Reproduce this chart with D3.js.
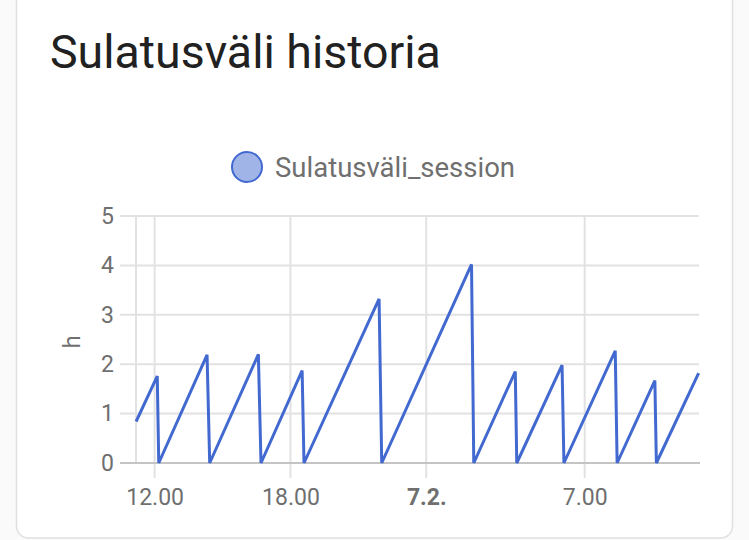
<!DOCTYPE html>
<html>
<head>
<meta charset="utf-8">
<script src="https://cdn.jsdelivr.net/npm/d3@7/dist/d3.min.js"></script>
<style>
  html, body { margin: 0; padding: 0; background: #fafafa; }
  svg { display: block; font-family: Roboto, "Noto Sans", sans-serif; }
</style>
</head>
<body>
<svg id="chart" width="749" height="540"></svg>
<script>
// ---- data ----
const title = "Sulatusväli historia";
const seriesName = "Sulatusväli_session";
const yAxisLabel = "h";
const times = [
  "2024-02-06T11:11", "2024-02-06T12:07", "2024-02-06T12:11",
  "2024-02-06T14:19", "2024-02-06T14:26",
  "2024-02-06T16:35", "2024-02-06T16:42",
  "2024-02-06T18:31", "2024-02-06T18:36",
  "2024-02-06T21:55", "2024-02-06T22:02",
  "2024-02-07T02:00", "2024-02-07T02:06",
  "2024-02-07T03:56", "2024-02-07T04:00",
  "2024-02-07T06:00", "2024-02-07T06:05",
  "2024-02-07T08:21", "2024-02-07T08:26",
  "2024-02-07T10:06", "2024-02-07T10:10",
  "2024-02-07T12:02"
];
const values = [
  0.84, 1.76, 0,
  2.19, 0,
  2.20, 0,
  1.87, 0,
  3.32, 0,
  4.02, 0,
  1.85, 0,
  1.98, 0,
  2.27, 0,
  1.67, 0,
  1.82
];
const timeDomain = ["2024-02-06T11:10:40", "2024-02-07T12:03"];
const xTickTimes = ["2024-02-06T12:00", "2024-02-06T18:00", "2024-02-07T00:00", "2024-02-07T07:00"];
const xTickLabels = ["12.00", "18.00", "7.2.", "7.00"];
const xTickBold = [false, false, true, false];
const yTicks = [0, 1, 2, 3, 4, 5];

// ---- chart ----
const parse = d3.isoParse;
const svg = d3.select("#chart");
const lineColor = "#4269d0";
const gridColor = "#e2e2e2";
const textColor = "#6f6f6f";

// card
svg.append("rect")
  .attr("x", 16.5).attr("y", -20).attr("width", 716).attr("height", 558)
  .attr("rx", 12).attr("ry", 12)
  .attr("fill", "#ffffff").attr("stroke", "#e0e0e0").attr("stroke-width", 1.5);

// title
svg.append("text")
  .attr("x", 50).attr("y", 68)
  .attr("font-size", 46.5).attr("fill", "#212121")
  .text(title);

// legend
svg.append("circle")
  .attr("cx", 247).attr("cy", 167).attr("r", 15)
  .attr("fill", "rgba(66,105,208,0.5)").attr("stroke", lineColor).attr("stroke-width", 2);
svg.append("text")
  .attr("x", 275).attr("y", 167).attr("dy", "0.35em")
  .attr("font-size", 27.5).attr("fill", textColor)
  .text(seriesName);

const x = d3.scaleTime().domain(timeDomain.map(parse)).range([136, 699]);
const y = d3.scaleLinear().domain([0, 5]).range([463, 216]);

// horizontal grid + y ticks
const yAxis = d3.axisLeft(y).tickValues(yTicks).tickSize(0).tickPadding(0).tickFormat(d3.format("d"));
const gy = svg.append("g").attr("transform", "translate(114,0)").call(yAxis);
gy.select(".domain").remove();
gy.selectAll("text").attr("font-size", 23).attr("fill", textColor).attr("font-family", "Roboto").attr("x", 0);

svg.append("g").selectAll("line").data(yTicks.filter(d => d !== 0)).join("line")
  .attr("x1", 120).attr("x2", 699)
  .attr("y1", d => y(d)).attr("y2", d => y(d))
  .attr("stroke", gridColor).attr("stroke-width", 2);

// vertical grid
svg.append("line")
  .attr("x1", x.range()[0]).attr("x2", x.range()[0])
  .attr("y1", y(5)).attr("y2", y(0))
  .attr("stroke", gridColor).attr("stroke-width", 2);

const xTicks = xTickTimes.map(parse);
svg.append("g").selectAll("line").data(xTicks).join("line")
  .attr("x1", d => x(d)).attr("x2", d => x(d))
  .attr("y1", y(5)).attr("y2", 478)
  .attr("stroke", gridColor).attr("stroke-width", 2);

// x axis labels
const xAxis = d3.axisBottom(x).tickValues(xTicks).tickSize(0).tickPadding(0)
  .tickFormat((d, i) => xTickLabels[i]);
const gx = svg.append("g").attr("transform", "translate(0,489)").call(xAxis);
gx.select(".domain").remove();
gx.selectAll("text")
  .attr("font-size", 23).attr("fill", textColor).attr("font-family", "Roboto")
  .attr("dy", "0.71em")
  .attr("font-weight", (d, i) => xTickBold[i] ? "bold" : "normal");

// zero line
svg.append("line")
  .attr("x1", 120).attr("x2", 700)
  .attr("y1", y(0)).attr("y2", y(0))
  .attr("stroke", "#c4c4c4").attr("stroke-width", 2);

// series line
const data = times.map((t, i) => ({ t: parse(t), v: values[i] }));
svg.append("path")
  .datum(data)
  .attr("fill", "none")
  .attr("stroke", lineColor)
  .attr("stroke-width", 3)
  .attr("stroke-linejoin", "miter")
  .attr("d", d3.line().x(d => x(d.t)).y(d => y(d.v)));

// y axis title
svg.append("text")
  .attr("transform", "translate(72,342) rotate(-90)")
  .attr("text-anchor", "middle").attr("dy", "0.35em")
  .attr("font-size", 24).attr("fill", textColor)
  .text(yAxisLabel);
</script>
</body>
</html>
